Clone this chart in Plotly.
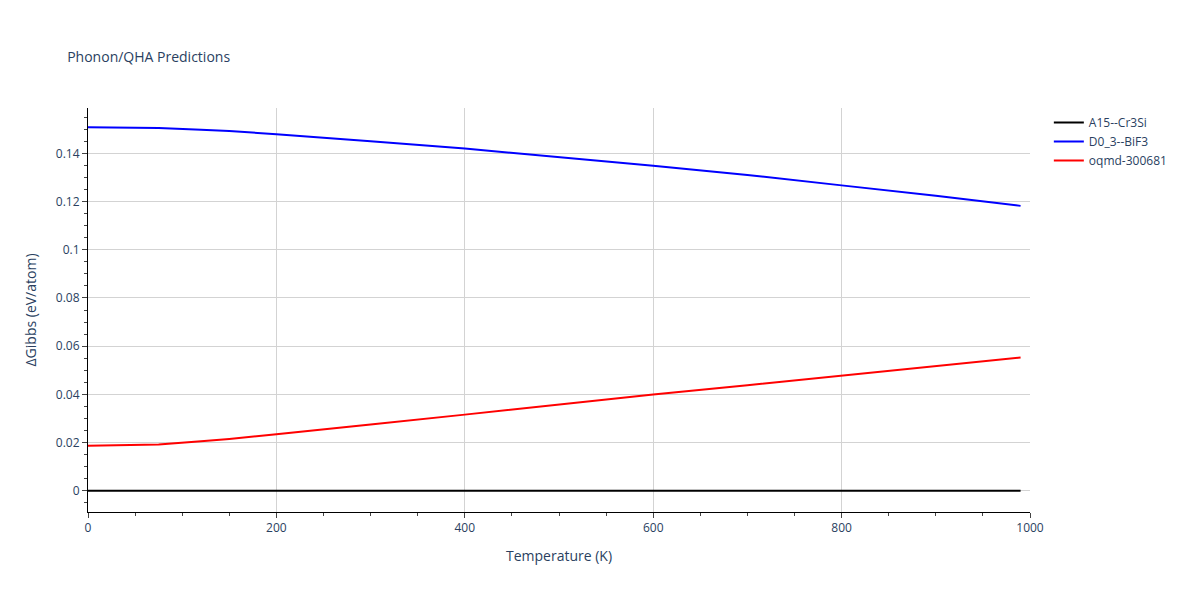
import plotly.graph_objects as go

temps = [0, 60, 75, 120, 150, 200, 250, 300, 400, 500, 600, 700, 750, 800, 900, 990]
a15 = [0.0] * len(temps)
d03 = [0.1508, 0.1506, 0.1505, 0.1498, 0.1493, 0.1479, 0.1466, 0.1450, 0.1420, 0.1385,
       0.1348, 0.1310, 0.1290, 0.1267, 0.1224, 0.1182]
oqmd = [0.0187, 0.0190, 0.0192, 0.0205, 0.0215, 0.0235, 0.0254, 0.0275, 0.0316, 0.0358,
        0.0399, 0.0438, 0.0458, 0.0478, 0.0518, 0.0553]

fig = go.Figure()
fig.add_trace(go.Scatter(x=temps, y=a15, mode='lines', name='A15--Cr3Si', line=dict(color='black', width=2)))
fig.add_trace(go.Scatter(x=temps, y=d03, mode='lines', name='D0_3--BiF3', line=dict(color='blue', width=2)))
fig.add_trace(go.Scatter(x=temps, y=oqmd, mode='lines', name='oqmd-300681', line=dict(color='red', width=2)))

fig.update_layout(
    title=dict(text='Phonon/QHA Predictions', x=0.05, y=0.925, font=dict(size=14)),
    paper_bgcolor='white', plot_bgcolor='white',
    margin=dict(l=80, r=162, t=100, b=80),
    legend=dict(x=1.02, y=1, font=dict(size=12)),
)
fig.update_xaxes(title='Temperature (K)', range=[0, 1000], showline=True, linecolor='black',
                 ticks='outside', gridcolor='lightgrey', zeroline=False,
                 minor=dict(ticks='outside', ticklen=3, showgrid=False))
fig.update_yaxes(title='ΔGibbs (eV/atom)', range=[-0.0088, 0.1588], showline=True, linecolor='black',
                 ticks='outside', gridcolor='lightgrey', zeroline=False, dtick=0.02,
                 minor=dict(ticks='outside', ticklen=3, showgrid=False))

fig.write_html("out.html", default_width='100%', default_height='100%',
               include_plotlyjs=True)
